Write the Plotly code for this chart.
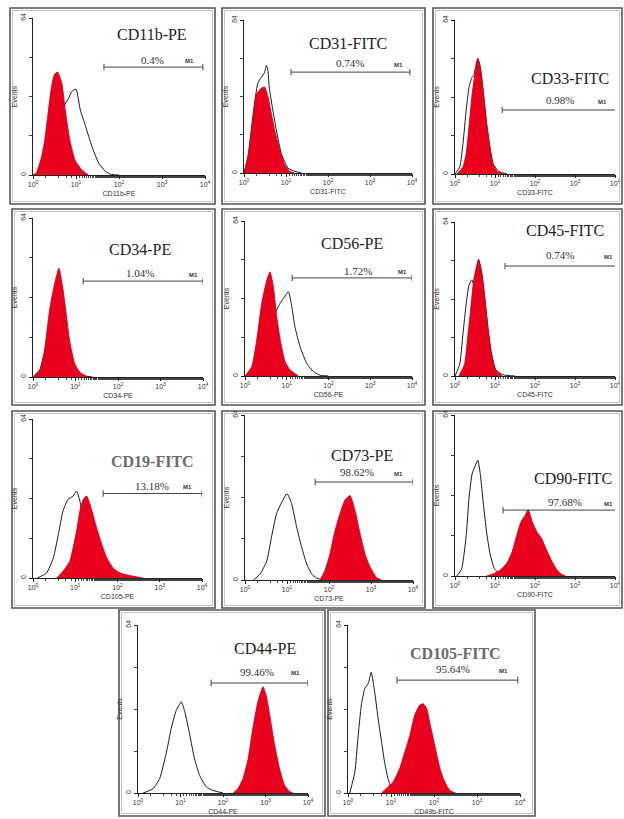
import plotly.graph_objects as go

W, H = 624, 819
RED = '#e8001c'

# ---------------- data (x in decades of fluorescence, y in events) ----------------
titles = ["CD11b-PE", "CD31-FITC", "CD33-FITC", "CD34-PE", "CD56-PE", "CD45-FITC",
          "CD19-FITC", "CD73-PE", "CD90-FITC", "CD44-PE", "CD105-FITC"]
xlabels = ["CD11b-PE", "CD31-FITC", "CD33-FITC", "CD34-PE", "CD56-PE", "CD45-FITC",
           "CD105-PE", "CD73-PE", "CD90-FITC", "CD44-PE", "CD49b-FITC"]
percents = ["0.4%", "0.74%", "0.98%", "1.04%", "1.72%", "0.74%",
            "13.18%", "98.62%", "97.68%", "99.46%", "95.64%"]
bold_titles = [False, False, False, False, False, False, True, False, False, False, True]

# gate M1: start (decade), end (decade), height (events)
gate_lo = [1.65, 1.12, 1.18, 1.18, 1.13, 1.25, 1.66, 1.67, 1.20, 1.72, 1.14]
gate_hi = [3.95, 3.95, 4.10, 4.00, 4.00, 4.10, 4.00, 4.00, 4.10, 4.00, 3.95]
gate_y = [44.0, 42.2, 26.6, 38.6, 40.5, 45.7, 34.0, 38.0, 26.2, 41.9, 43.0]

cd11b_iso_x = [0.0, 0.1, 0.2, 0.35, 0.51, 0.63, 0.75, 0.82, 0.9, 1.0, 1.1, 1.22, 1.37, 1.53, 1.69, 1.8, 2.0]
cd11b_iso_y = [0, 0.5, 2, 10, 20, 25, 29, 31, 34, 35, 26.5, 20, 11.6, 4.8, 1.4, 0.3, 0]
cd11b_pos_x = [0.0, 0.08, 0.2, 0.27, 0.35, 0.43, 0.5, 0.57, 0.67, 0.75, 0.86, 0.98, 1.14, 1.29]
cd11b_pos_y = [0, 1, 7.5, 14, 25, 36, 41, 42, 37.5, 26.5, 14, 6, 2, 0]

cd31_iso_x = [0.0, 0.1, 0.22, 0.33, 0.41, 0.49, 0.53, 0.57, 0.6, 0.68, 0.77, 0.89, 1.05, 1.21, 1.37]
cd31_iso_y = [0, 7.6, 25, 37.6, 40, 42, 45, 43, 36, 27, 18, 8, 2, 0.7, 0]
cd31_pos_x = [0.0, 0.1, 0.22, 0.29, 0.41, 0.49, 0.57, 0.65, 0.73, 0.85, 0.97, 1.09, 1.2]
cd31_pos_y = [0, 7, 23.6, 32.7, 35.5, 36, 32, 25, 18, 9.7, 3.5, 0.7, 0]

cd33_iso_x = [0.0, 0.12, 0.2, 0.28, 0.35, 0.42, 0.47, 0.52, 0.57, 0.63, 0.71, 0.79, 0.87, 0.96, 1.1, 1.3]
cd33_iso_y = [0, 3, 12.7, 26.6, 36, 40, 41, 45, 48, 44.6, 33.5, 21, 11.4, 4, 1, 0]
cd33_pos_x = [0.05, 0.2, 0.28, 0.35, 0.43, 0.51, 0.57, 0.63, 0.71, 0.79, 0.87, 0.94, 1.06, 1.22]
cd33_pos_y = [0, 3, 8.6, 19.7, 33.5, 43, 48, 44.6, 33.5, 21, 11.4, 4.4, 1, 0]

cd34_iso_x = [0.0, 0.16, 0.3, 0.42, 0.5, 0.6, 0.7, 0.8, 0.92, 1.05, 1.2, 1.4]
cd34_iso_y = [0, 3, 12, 26, 29, 27, 20, 12, 5, 2, 0.5, 0]
cd34_pos_x = [0.0, 0.16, 0.27, 0.39, 0.51, 0.61, 0.7, 0.78, 0.86, 0.98, 1.1, 1.29]
cd34_pos_y = [0, 2.7, 10.8, 27, 37.7, 43.8, 36, 25.6, 14.8, 5.4, 2, 0]

cd56_iso_x = [0.0, 0.2, 0.4, 0.6, 0.75, 0.84, 0.92, 1.04, 1.12, 1.2, 1.32, 1.48, 1.64, 1.8, 2.0]
cd56_iso_y = [0, 2, 10, 20, 27, 30, 32, 34.8, 28.6, 20, 12, 5.2, 1.8, 0.3, 0]
cd56_pos_x = [0.0, 0.16, 0.28, 0.4, 0.52, 0.6, 0.68, 0.76, 0.86, 0.96, 1.08, 1.28]
cd56_pos_y = [0, 3.8, 14.8, 30, 39.5, 43, 36.8, 24.5, 13.5, 5.9, 2.5, 0]

cd45_iso_x = [0.0, 0.12, 0.2, 0.28, 0.35, 0.42, 0.47, 0.53, 0.59, 0.67, 0.75, 0.83, 0.91, 1.02, 1.2, 1.5]
cd45_iso_y = [0, 5, 17.7, 30, 37.8, 40, 38, 44, 48.4, 42.6, 31.5, 19, 9.4, 2.5, 0.5, 0]
cd45_pos_x = [0.1, 0.24, 0.31, 0.39, 0.47, 0.59, 0.67, 0.75, 0.83, 0.91, 1.02, 1.18]
cd45_pos_y = [0, 5, 15, 27.4, 40, 48.4, 42.6, 31.5, 19, 9.4, 2.5, 0]

cd19_iso_x = [0.1, 0.32, 0.48, 0.6, 0.71, 0.83, 0.95, 1.03, 1.11, 1.19, 1.31, 1.43, 1.59, 1.83, 2.2]
cd19_iso_y = [0, 2, 8, 17.5, 27, 31.7, 33, 35, 31, 23, 13.5, 6.7, 2, 0.3, 0]
cd19_pos_x = [0.56, 0.71, 0.87, 1.03, 1.11, 1.19, 1.27, 1.35, 1.51, 1.63, 1.75, 1.9, 2.06, 2.38, 2.6]
cd19_pos_y = [0, 2.7, 6.7, 18.9, 27, 31.7, 33, 29.6, 20, 13.5, 8, 4, 2, 0.7, 0]

cd73_iso_x = [0.2, 0.36, 0.52, 0.63, 0.75, 0.87, 1.0, 1.11, 1.23, 1.35, 1.47, 1.59, 1.7, 1.85]
cd73_iso_y = [0, 2.3, 7.5, 16.6, 25.7, 30, 33.5, 29.6, 20.5, 12.7, 6.2, 2.3, 0.8, 0]
cd73_pos_x = [1.79, 1.9, 2.02, 2.14, 2.26, 2.38, 2.5, 2.62, 2.74, 2.86, 2.98, 3.13, 3.25]
cd73_pos_y = [0, 3.6, 10, 19, 25.7, 31, 32.8, 27, 18, 10, 5, 1, 0]

cd90_iso_x = [0.04, 0.16, 0.28, 0.35, 0.43, 0.51, 0.57, 0.63, 0.71, 0.79, 0.87, 0.98, 1.1, 1.22]
cd90_iso_y = [0, 2.5, 16, 31, 40.8, 44, 46, 40.8, 28.5, 17.5, 9.3, 3.1, 1, 0]
cd90_pos_x = [0.79, 0.98, 1.14, 1.3, 1.42, 1.54, 1.65, 1.75, 1.83, 1.93, 2.05, 2.17, 2.28, 2.4, 2.52, 2.64, 2.76]
cd90_pos_y = [0, 1, 2.5, 5.2, 9.3, 16, 21.6, 24, 26.4, 21.6, 17.5, 14.8, 10.7, 6.6, 3.1, 1, 0]

cd44_iso_x = [0.12, 0.35, 0.51, 0.67, 0.78, 0.9, 1.02, 1.1, 1.22, 1.33, 1.45, 1.61, 1.76, 2.0]
cd44_iso_y = [0, 1.6, 5.5, 15.6, 24.5, 31.5, 34.7, 31, 22, 13, 6.7, 2.3, 1, 0]
cd44_pos_x = [2.24, 2.35, 2.47, 2.59, 2.7, 2.82, 2.94, 3.02, 3.1, 3.22, 3.33, 3.45, 3.57, 3.65]
cd44_pos_y = [0, 1.6, 5.5, 13, 24.5, 34.7, 40.5, 37, 29.6, 18, 9.3, 2.9, 0.6, 0]

cd105_iso_x = [0.04, 0.16, 0.23, 0.31, 0.39, 0.47, 0.54, 0.62, 0.7, 0.78, 0.85, 0.93, 1.01, 1.13]
cd105_iso_y = [0, 8, 20.7, 33.5, 39.8, 41.7, 46, 38.5, 28.4, 19.5, 11.8, 5.5, 1.7, 0]
cd105_pos_x = [0.78, 0.89, 1.05, 1.2, 1.32, 1.44, 1.55, 1.67, 1.75, 1.83, 1.9, 2.02, 2.14, 2.25, 2.37, 2.5]
cd105_pos_y = [0, 1.7, 4.2, 9.3, 15.6, 22, 29.6, 33.5, 34, 32.2, 27, 18, 9.3, 4.2, 1, 0]

iso_series = [(cd11b_iso_x, cd11b_iso_y), (cd31_iso_x, cd31_iso_y), (cd33_iso_x, cd33_iso_y),
              (cd34_iso_x, cd34_iso_y), (cd56_iso_x, cd56_iso_y), (cd45_iso_x, cd45_iso_y),
              (cd19_iso_x, cd19_iso_y), (cd73_iso_x, cd73_iso_y), (cd90_iso_x, cd90_iso_y),
              (cd44_iso_x, cd44_iso_y), (cd105_iso_x, cd105_iso_y)]
pos_series = [(cd11b_pos_x, cd11b_pos_y), (cd31_pos_x, cd31_pos_y), (cd33_pos_x, cd33_pos_y),
              (cd34_pos_x, cd34_pos_y), (cd56_pos_x, cd56_pos_y), (cd45_pos_x, cd45_pos_y),
              (cd19_pos_x, cd19_pos_y), (cd73_pos_x, cd73_pos_y), (cd90_pos_x, cd90_pos_y),
              (cd44_pos_x, cd44_pos_y), (cd105_pos_x, cd105_pos_y)]

x_tickvals = [1, 10, 100, 1000, 10000]
x_ticktext = ['10<sup>0</sup>', '10<sup>1</sup>', '10<sup>2</sup>', '10<sup>3</sup>', '10<sup>4</sup>']

# ---------------- layout geometry (pixels) ----------------
# axis box: (x_left, x_right, y_bottom, y_top); border: (x0, y0, x1, y1)
geom = [
    dict(ax=(33, 205, 175, 18),  bd=(10, 8, 215, 204),    tt=(152, 35),  pc=(152, 60),  m1=(190, 61)),
    dict(ax=(244, 412, 173, 20), bd=(222, 8, 425, 204),   tt=(348, 43),  pc=(350, 63),  m1=(398, 65)),
    dict(ax=(455, 615, 174, 20), bd=(433, 8, 622, 204),   tt=(570, 78),  pc=(560, 100), m1=(602, 102)),
    dict(ax=(33, 203, 377, 218), bd=(12, 209, 215, 405),  tt=(140, 249), pc=(140, 273), m1=(193, 275)),
    dict(ax=(245, 412, 376, 221), bd=(222, 209, 425, 405), tt=(352, 243), pc=(358, 271), m1=(402, 272)),
    dict(ax=(455, 615, 376, 222), bd=(433, 209, 622, 405), tt=(565, 230), pc=(560, 255), m1=(608, 257)),
    dict(ax=(33, 202, 578, 419), bd=(12, 411, 215, 608),  tt=(152, 461), pc=(152, 486), m1=(187, 487)),
    dict(ax=(245, 413, 580, 415), bd=(222, 411, 425, 608), tt=(362, 455), pc=(357, 472), m1=(398, 474)),
    dict(ax=(455, 615, 576, 415), bd=(433, 411, 622, 608), tt=(573, 478), pc=(565, 502), m1=(608, 504)),
    dict(ax=(138, 308, 793, 625), bd=(119, 610, 325, 816), tt=(265, 648), pc=(257, 672), m1=(295, 673)),
    dict(ax=(348, 520, 793, 625), bd=(328, 610, 535, 816), tt=(455, 653), pc=(453, 669), m1=(503, 671)),
]


def px(xp):
    return xp / W


def py(yp):
    return 1 - yp / H


fig = go.Figure()
layout = dict(width=W, height=H, margin=dict(l=0, r=0, t=0, b=0, autoexpand=False),
              paper_bgcolor='white', plot_bgcolor='white', showlegend=False)
shapes = []
annotations = []
AX_FONT = dict(family='Liberation Sans, Arial', size=7, color='#333')

for i in range(11):
    n = i + 1
    xa = 'x' if n == 1 else f'x{n}'
    ya = 'y' if n == 1 else f'y{n}'
    xkey = 'xaxis' if n == 1 else f'xaxis{n}'
    ykey = 'yaxis' if n == 1 else f'yaxis{n}'
    g = geom[i]
    x0, x1, yb, yt = g['ax']

    ix, iy = iso_series[i]
    pxs, pys = pos_series[i]
    fig.add_trace(go.Scatter(x=[10 ** v for v in ix], y=iy, mode='lines',
                             line=dict(color='#1a1a1a', width=1, shape='spline', smoothing=0.5),
                             xaxis=xa, yaxis=ya, hoverinfo='skip'))
    fig.add_trace(go.Scatter(x=[10 ** v for v in pxs], y=pys, mode='lines', fill='tozeroy',
                             fillcolor=RED,
                             line=dict(color='#c40018', width=0.8, shape='spline', smoothing=0.5),
                             xaxis=xa, yaxis=ya, hoverinfo='skip'))

    layout[xkey] = dict(type='log', range=[0, 4], domain=[px(x0), px(x1)], anchor=ya,
                        automargin=False,
                        showline=True, linecolor='#222', linewidth=1, showgrid=False, zeroline=False,
                        ticks='outside', ticklen=3, tickcolor='#222',
                        tickvals=x_tickvals, ticktext=x_ticktext, tickfont=AX_FONT,
                        minor=dict(ticks='outside', ticklen=2, tickcolor='#444', showgrid=False),
                        title=dict(text=xlabels[i], font=AX_FONT, standoff=3))
    layout[ykey] = dict(range=[0, 64], domain=[py(yb), py(yt)], anchor=xa,
                        automargin=False,
                        showline=True, linecolor='#222', linewidth=1, showgrid=False, zeroline=False,
                        ticks='outside', ticklen=3, tickcolor='#222',
                        tickvals=[0, 64], ticktext=['0', '64'], tickangle=-90, tickfont=AX_FONT,
                        minor=dict(tickvals=[16, 32, 48], ticks='outside', ticklen=3,
                                   tickcolor='#444', showgrid=False),
                        title=dict(text='Events', font=AX_FONT, standoff=1))

    # panel border (double line)
    bx0, by0, bx1, by1 = g['bd']
    shapes.append(dict(type='rect', xref='paper', yref='paper',
                       x0=px(bx0), x1=px(bx1), y0=py(by1), y1=py(by0),
                       line=dict(color='#555', width=1.6)))
    shapes.append(dict(type='rect', xref='paper', yref='paper',
                       x0=px(bx0 + 2.5), x1=px(bx1 - 2.5), y0=py(by1 - 2.5), y1=py(by0 + 2.5),
                       line=dict(color='#b5b5b5', width=0.8)))

    # M1 gate marker (data coordinates on the log axis)
    lo, hi, gy = 10 ** gate_lo[i], 10 ** gate_hi[i], gate_y[i]
    gl = dict(color='#444', width=1)
    shapes.append(dict(type='line', xref=xa, yref=ya, x0=lo, x1=hi, y0=gy, y1=gy, line=gl))
    shapes.append(dict(type='line', xref=xa, yref=ya, x0=lo, x1=lo, y0=gy - 1.3, y1=gy + 1.3, line=gl))
    shapes.append(dict(type='line', xref=xa, yref=ya, x0=hi, x1=hi, y0=gy - 1.3, y1=gy + 1.3, line=gl))

    # texts
    if bold_titles[i]:
        ttxt, tcol = f'<b>{titles[i]}</b>', '#6a6a6a'
    else:
        ttxt, tcol = titles[i], '#222'
    annotations.append(dict(text=ttxt, xref='paper', yref='paper', x=px(g['tt'][0]), y=py(g['tt'][1]),
                            xanchor='center', yanchor='middle', showarrow=False,
                            font=dict(family='Liberation Serif, Times New Roman', size=16, color=tcol)))
    annotations.append(dict(text=percents[i], xref='paper', yref='paper', x=px(g['pc'][0]), y=py(g['pc'][1]),
                            xanchor='center', yanchor='middle', showarrow=False,
                            font=dict(family='Liberation Serif, Times New Roman', size=11, color='#333')))
    annotations.append(dict(text='<b>M1</b>', xref='paper', yref='paper', x=px(g['m1'][0]), y=py(g['m1'][1]),
                            xanchor='center', yanchor='middle', showarrow=False,
                            font=dict(family='Liberation Sans, Arial', size=6, color='#333')))

layout['shapes'] = shapes
layout['annotations'] = annotations
fig.update_layout(**layout)
fig.write_html("out.html", config={'displayModeBar': False},
               post_script="document.body.style.margin='0px';document.body.style.overflow='hidden';")
